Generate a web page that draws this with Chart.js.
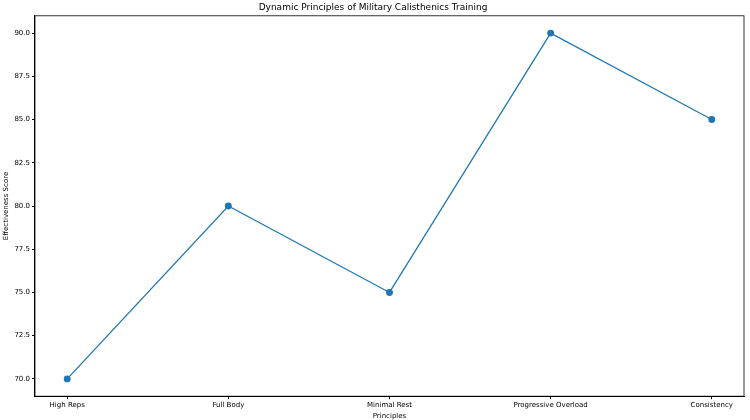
<!DOCTYPE html>
<html><head><meta charset="utf-8">
<script src="https://cdn.jsdelivr.net/npm/chart.js@4"></script>
<style>html,body{margin:0;padding:0;background:#fff}#w{width:750px;height:420px}</style>
</head><body><div id="w"><canvas id="c"></canvas></div>
<script>
const categories = ["High Reps","Full Body","Minimal Rest","Progressive Overload","Consistency"];
const scores = [70,80,75,90,85];
const yTicks = [70,72.5,75,77.5,80,82.5,85,87.5,90];
const font = {family:"DejaVu Sans", size:7};
const box = {id:'box',afterDraw(c){const a=c.chartArea,x=c.ctx;x.save();x.strokeStyle='#000';x.lineWidth=0.8;x.strokeRect(a.left,a.top,a.right-a.left,a.bottom-a.top);x.restore();}};
const grid = {display:true,drawOnChartArea:false,drawTicks:true,tickLength:3,color:'#000'};
new Chart(document.getElementById('c'),{
  type:'line',
  data:{datasets:[{data:scores.map((v,i)=>({x:i,y:v})),borderColor:'#1f77b4',backgroundColor:'#1f77b4',borderWidth:1.3,pointRadius:2.8,pointHoverRadius:2.8,tension:0}]},
  options:{responsive:true,maintainAspectRatio:false,animation:false,
    layout:{padding:{left:2,right:6,top:0,bottom:0}},
    plugins:{legend:{display:false},tooltip:{enabled:false},
      title:{display:true,text:'Dynamic Principles of Military Calisthenics Training',color:'#000',font:{family:"DejaVu Sans",size:9,weight:'normal'},padding:{top:2,bottom:3}}},
    scales:{
      x:{type:'linear',min:-0.2,max:4.2,grid,border:{color:'#000'},
        afterBuildTicks:a=>{a.ticks=categories.map((_,i)=>({value:i}));},
        ticks:{color:'#000',font,callback:v=>categories[v],maxRotation:0,padding:2},
        title:{display:true,text:'Principles',color:'#000',font,padding:{top:0,bottom:0}}},
      y:{min:69,max:91,grid,border:{color:'#000'},
        afterBuildTicks:a=>{a.ticks=yTicks.map(v=>({value:v}));},
        ticks:{color:'#000',font,callback:v=>v.toFixed(1),padding:2},
        title:{display:true,text:'Effectiveness Score',color:'#000',font,padding:{top:0,bottom:2}}}
    }},
  plugins:[box]
});
</script></body></html>
